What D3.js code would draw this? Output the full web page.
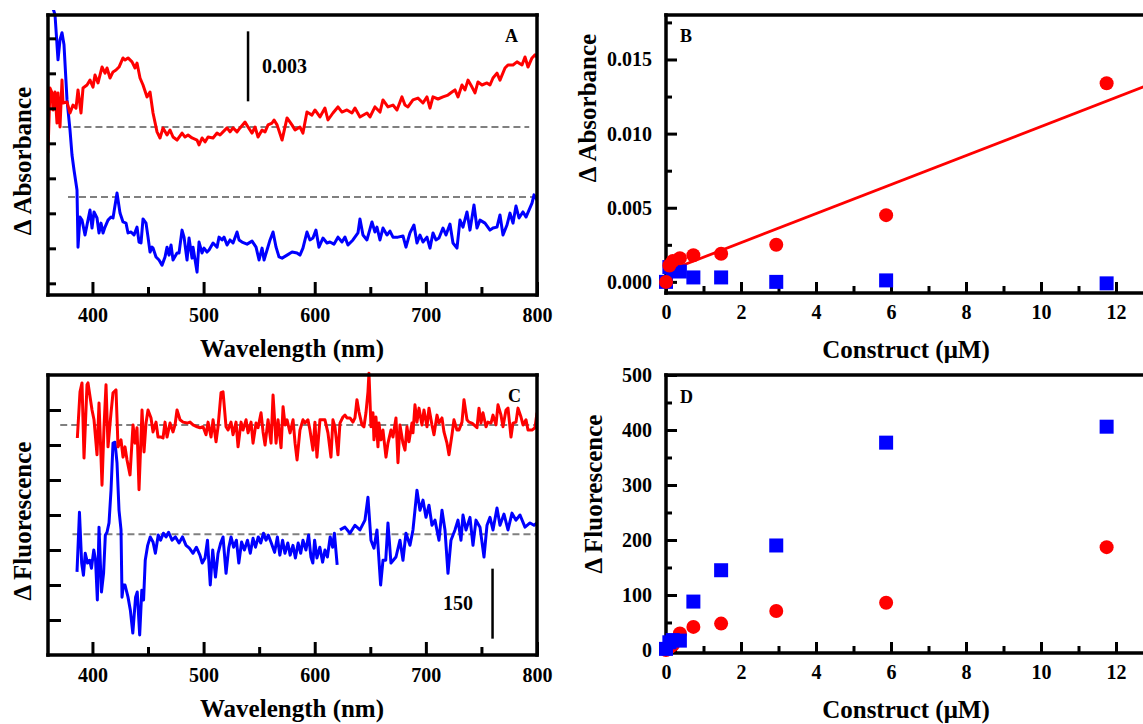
<!DOCTYPE html>
<html><head><meta charset="utf-8">
<script src="https://cdn.jsdelivr.net/npm/d3@7"></script>
<style>
html,body{margin:0;padding:0;background:#fff}
svg{display:block}
text{font-family:'Liberation Serif','Times New Roman',serif;font-weight:bold;fill:#000}
</style>
</head><body>
<svg id="c" width="1143" height="724"></svg>
<script>
// ---------------- DATA ----------------
// Panel A: difference absorbance spectra, [wavelength nm, ΔA in units of 0.001]
const specA_red = [[360.0,-1.11],[361.8,1.67],[363.6,1.46],[364.5,0.73],[366.3,1.50],[368.1,0.17],[369.0,1.46],[370.8,0.00],[372.6,2.01],[373.5,1.03],[377.1,1.07],[379.8,0.60],[382.5,0.94],[385.2,0.81],[387.0,1.59],[389.7,0.60],[391.5,1.67],[395.1,1.80],[397.8,2.01],[400.5,1.71],[402.3,2.23],[405.0,1.89],[408.6,2.57],[411.3,2.31],[413.1,2.53],[415.8,2.10],[418.5,2.36],[421.2,2.44],[423.9,2.57],[427.5,2.96],[429.3,2.87],[432.0,2.96],[435.6,2.79],[438.3,2.53],[440.1,2.74],[442.8,2.10],[445.5,1.80],[449.1,1.29],[451.8,1.50],[454.5,0.60],[458.1,-0.21],[460.8,-0.47],[463.5,-0.04],[467.1,-0.34],[469.8,-0.13],[472.5,-0.43],[476.1,-0.56],[480.6,-0.26],[483.3,-0.43],[486.0,-0.34],[489.6,-0.47],[494.1,-0.56],[495.9,-0.77],[498.6,-0.47],[501.3,-0.64],[504.0,-0.43],[508.5,-0.47],[512.1,-0.26],[514.8,-0.34],[517.5,-0.21],[521.1,-0.04],[523.8,-0.21],[526.5,-0.04],[530.1,-0.21],[532.8,-0.04],[537.3,0.21],[540.0,0.00],[543.6,-0.26],[546.3,0.00],[549.0,-0.43],[552.6,-0.13],[555.3,-0.21],[558.0,0.09],[561.6,0.17],[563.4,0.30],[566.1,0.09],[570.6,-0.56],[575.1,0.39],[579.5,0.09],[582.3,-0.13],[586.7,0.00],[589.4,-0.26],[593.0,0.64],[597.5,0.51],[600.2,0.73],[604.7,0.43],[609.2,0.81],[611.9,0.30],[616.4,0.60],[620.9,0.86],[624.5,0.64],[629.0,0.73],[633.5,0.60],[636.2,0.81],[640.7,0.43],[647.0,0.60],[649.7,0.43],[654.2,0.86],[658.7,0.64],[661.4,1.16],[665.9,0.86],[670.4,0.94],[674.0,0.73],[678.5,1.29],[681.2,0.94],[683.9,0.86],[688.4,1.16],[692.9,1.24],[697.4,1.03],[701.0,1.29],[703.7,0.81],[706.4,1.29],[710.9,1.20],[715.4,1.29],[719.9,1.37],[723.5,1.50],[726.2,1.59],[728.9,1.29],[732.5,1.80],[735.2,1.59],[737.9,2.01],[741.5,1.71],[744.2,1.46],[746.9,1.93],[750.5,1.80],[755.0,1.89],[757.7,1.80],[760.4,2.10],[764.0,2.31],[766.7,2.01],[771.2,2.53],[773.9,2.66],[778.4,2.66],[782.0,2.79],[786.5,2.66],[789.2,3.00],[791.9,2.57],[795.5,2.96],[798.2,3.09],[800.0,3.00]];
const specA_blue = [[363.6,8.23],[366.3,7.81],[369.0,5.88],[370.8,6.74],[372.6,7.04],[374.4,6.52],[377.1,4.16],[379.8,2.87],[381.6,1.80],[383.4,1.16],[386.1,0.30],[387.0,-2.15],[388.8,-0.86],[390.6,-0.99],[393.3,-1.63],[395.1,-1.20],[397.8,-0.56],[399.6,-1.33],[401.4,-0.64],[404.1,-0.90],[405.9,-1.54],[407.7,-1.12],[409.5,-1.54],[411.3,-1.29],[414.0,-0.99],[416.7,-0.86],[418.5,-0.90],[422.1,0.17],[424.8,-0.69],[427.5,-1.07],[430.2,-1.12],[432.0,-1.54],[434.7,-1.50],[437.4,-1.63],[440.1,-1.29],[441.9,-1.93],[443.7,-1.97],[445.5,-0.94],[448.2,-1.12],[450.0,-1.72],[451.8,-2.36],[453.6,-2.15],[454.5,-2.19],[457.2,-2.57],[459.9,-2.70],[462.6,-2.92],[465.3,-2.57],[467.1,-2.15],[468.9,-2.49],[470.7,-2.06],[472.5,-2.70],[476.1,-2.40],[477.9,-2.40],[480.6,-1.42],[482.4,-1.72],[485.1,-2.70],[486.9,-1.76],[489.6,-2.62],[490.5,-2.15],[494.1,-3.22],[495.9,-1.93],[498.6,-2.40],[500.4,-2.19],[503.1,-2.36],[504.9,-2.27],[508.5,-1.97],[512.1,-2.15],[513.9,-1.72],[516.6,-1.84],[518.4,-1.72],[521.1,-2.06],[523.8,-1.84],[526.5,-1.97],[530.1,-1.50],[531.9,-1.84],[534.6,-1.93],[539.1,-2.02],[543.6,-1.89],[547.2,-2.15],[549.9,-2.70],[552.6,-2.19],[554.4,-2.70],[557.1,-2.27],[559.8,-1.84],[562.5,-1.50],[565.2,-2.15],[567.9,-2.57],[570.6,-2.62],[575.1,-2.49],[579.6,-2.36],[584.1,-2.40],[586.7,-2.49],[589.4,-2.19],[593.0,-1.50],[595.7,-1.84],[598.4,-1.76],[601.1,-1.42],[603.8,-2.15],[607.4,-1.76],[611.0,-1.97],[613.7,-1.93],[617.3,-2.02],[620.9,-1.72],[624.5,-1.93],[627.2,-1.72],[629.9,-2.06],[634.4,-1.84],[638.9,-1.54],[640.7,-0.94],[643.4,-1.63],[647.0,-1.84],[651.5,-1.07],[654.2,-1.50],[656.0,-1.29],[658.7,-1.84],[661.4,-1.33],[665.0,-1.63],[667.7,-1.46],[670.4,-1.72],[674.9,-1.72],[679.4,-1.67],[682.1,-2.15],[685.7,-1.54],[689.3,-1.20],[692.0,-1.97],[694.7,-1.63],[697.4,-1.93],[701.0,-1.72],[703.7,-2.19],[706.4,-1.54],[709.1,-1.84],[711.8,-1.76],[715.4,-1.33],[718.1,-1.63],[721.7,-1.16],[724.4,-1.97],[728.0,-2.19],[730.7,-0.99],[733.4,-1.29],[737.0,-0.64],[739.7,-1.42],[743.3,-0.34],[746.0,-1.33],[748.7,-0.99],[753.2,-1.12],[757.7,-1.42],[760.4,-1.33],[764.0,-1.29],[766.7,-0.77],[769.4,-1.63],[773.0,-1.20],[775.7,-0.69],[778.4,-1.12],[781.1,-0.39],[783.8,-0.90],[787.4,-0.64],[790.1,-0.86],[792.8,-0.56],[795.5,-0.26],[797.3,0.09],[800.0,-0.13]];
const offsetA = {red: 7.2, blue: 4.2};          // vertical offsets of the two traces (units of 0.001)
const baseA = {red: [373, 793], blue: [378, 800]}; // extent of dashed zero lines (nm)
const ticksA_y = [0.5, 2.0, 3.5, 5.0, 6.5, 8.0, 9.5, 11.0];
const barA = {wl: 540, from: 8.3, to: 11.3, label: "0.003"};

// Panel C: difference fluorescence spectra, [wavelength nm, ΔF]
const specC_red = [[386.4,-28],[388.8,71],[390.6,90],[392.4,-71],[395.1,86],[396.0,90],[399.6,32],[401.4,11],[404.1,-64],[405.9,47],[408.6,-129],[410.4,-4],[412.2,86],[414.0,-47],[416.7,26],[418.5,69],[421.2,75],[423.0,-47],[425.7,-32],[427.5,-69],[429.3,-47],[431.1,-75],[433.8,-107],[436.5,0],[438.3,-39],[440.1,-6],[441.9,-139],[444.6,32],[446.4,-58],[448.2,4],[450.0,32],[452.7,15],[454.5,-15],[457.2,6],[459.0,-26],[461.7,-26],[463.5,-28],[465.3,6],[467.1,-26],[469.8,4],[472.5,-15],[474.3,0],[476.1,32],[478.8,11],[481.5,6],[485.1,4],[487.8,6],[490.5,0],[494.1,-4],[496.8,-6],[499.5,-4],[502.2,-21],[504.0,6],[506.7,-26],[508.5,11],[511.2,-36],[513.0,-4],[515.7,69],[517.5,71],[520.2,-4],[522.0,-11],[524.7,6],[526.5,-21],[529.2,6],[531.0,-47],[533.7,6],[535.5,-11],[538.2,11],[540.0,-17],[542.7,6],[544.5,-39],[547.2,4],[549.0,-6],[551.7,26],[553.5,-15],[555.3,-43],[558.0,11],[560.7,-39],[562.5,64],[565.2,-39],[567.0,11],[569.7,-49],[571.5,39],[573.3,0],[575.1,11],[577.8,-17],[580.5,11],[582.3,-39],[584.1,-75],[586.7,-11],[589.4,11],[591.2,4],[593.9,11],[595.7,-11],[598.4,-54],[600.2,6],[602.0,-69],[604.7,11],[607.4,11],[609.2,11],[611.9,-17],[614.6,-69],[616.4,11],[618.2,-4],[620.9,-64],[622.7,4],[625.4,17],[627.2,21],[629.0,15],[631.7,15],[634.4,6],[636.2,15],[638.0,54],[639.8,28],[642.5,0],[644.3,-4],[646.1,26],[647.9,71],[648.8,111],[650.6,-4],[652.4,26],[653.3,-32],[655.1,17],[656.9,-47],[657.8,4],[659.6,-32],[661.4,-11],[664.1,-69],[665.9,-39],[668.6,-11],[670.4,-26],[673.1,15],[674.9,-81],[676.7,0],[679.4,-39],[681.2,-54],[683.0,-4],[684.8,-36],[687.5,4],[688.4,-17],[690.2,43],[692.0,6],[693.8,36],[696.5,0],[698.3,32],[701.0,-4],[702.8,36],[705.5,0],[707.3,-21],[710.0,21],[711.8,4],[714.5,15],[716.3,-15],[719.0,-39],[720.8,-64],[723.5,-21],[725.3,11],[728.0,-11],[729.8,-11],[732.5,6],[734.3,54],[737.0,11],[738.8,6],[741.5,4],[743.3,0],[746.0,-6],[747.8,36],[749.6,4],[751.4,26],[754.1,-4],[755.9,6],[758.6,4],[760.4,21],[763.1,0],[764.9,43],[767.6,21],[769.4,-4],[772.1,32],[773.9,36],[776.6,-26],[778.4,4],[781.1,6],[782.9,36],[785.6,17],[787.4,0],[790.1,11],[791.9,-11],[795.5,-11],[798.2,-6],[800.0,26]];
const specC_blue = [[386.1,-81],[388.3,47],[390.3,-62],[391.9,-88],[393.5,-41],[395.6,-62],[397.5,-56],[399.1,-73],[401.2,-34],[402.8,-56],[404.4,-141],[405.9,15],[408.1,-124],[410.0,-84],[411.6,-2],[413.1,4],[414.9,24],[416.7,94],[418.5,195],[420.3,197],[422.1,152],[423.9,51],[425.7,9],[426.6,-135],[427.8,-109],[429.3,-109],[432.0,-135],[434.1,-163],[436.3,-212],[438.8,-135],[440.3,-124],[442.5,-216],[444.4,-120],[446.0,-141],[447.5,-56],[449.7,-24],[452.0,-6],[454.5,-17],[456.6,-41],[459.2,-2],[461.3,-13],[463.8,2],[466.2,-6],[468.5,4],[471.6,-13],[474.7,-6],[477.9,-19],[481.0,-6],[484.2,-24],[487.2,-30],[490.5,-41],[493.5,-28],[496.7,-45],[498.8,-62],[501.3,-51],[503.5,-13],[506.0,-109],[508.2,-34],[510.7,-92],[513.0,-41],[515.4,-19],[517.5,-6],[520.2,-84],[522.6,-30],[524.7,-6],[527.0,-28],[529.5,-13],[531.7,-62],[534.2,-17],[536.7,-34],[539.5,-13],[542.0,-41],[544.5,-9],[546.7,-28],[549.2,-6],[551.4,-19],[553.9,2],[556.2,-13],[558.2,-2],[560.6,-17],[563.9,-39],[566.4,-6],[568.6,-45],[571.1,-13],[573.2,-41],[575.8,-19],[577.9,-45],[580.4,-24],[582.6,-51],[585.1,-19],[587.4,-41],[589.4,-13],[592.1,-34],[594.5,-2],[596.6,-49],[598.3,-62],[599.9,-13],[602.0,-51],[604.6,-28],[607.1,-60],[609.2,-34],[611.4,-49],[613.9,-6],[616.1,-28],[617.7,2],[620.2,-66],[621.5,null],[622.7,9],[627.2,15],[631.7,2],[636.2,19],[640.7,9],[645.2,30],[647.9,79],[650.6,-13],[653.3,-30],[656.0,9],[659.3,-109],[661.4,-56],[663.9,-56],[665.9,24],[668.6,-62],[673.1,-49],[676.7,-13],[679.4,-56],[682.1,2],[685.7,-24],[688.4,9],[692.0,94],[694.7,51],[697.4,73],[700.1,36],[702.8,62],[705.5,19],[708.2,30],[711.8,-13],[714.5,51],[717.2,9],[719.9,-84],[722.6,-13],[726.2,9],[728.9,30],[731.6,-13],[733.4,41],[736.1,9],[739.7,36],[742.4,-24],[745.1,30],[748.7,15],[752.3,-49],[755.0,19],[757.7,36],[760.4,9],[764.0,56],[766.7,19],[770.3,43],[773.9,9],[777.5,45],[781.1,30],[784.7,41],[789.2,15],[793.7,24],[797.3,19],[800.0,24]];
const offsetC = {red: 493, blue: 259};
const baseC = {red: [371, 800], blue: [382, 800]};
const ticksC_y = [75, 150, 225, 300, 375, 450, 525];
const barC = {wl: 760, from: 35, to: 185, label: "150"};

// Wavelength axis ticks
const wlMajor = [400, 500, 600, 700, 800];
const wlMinor = [450, 550, 650, 750];

// Panels B & D: titration, construct concentration (µM)
const conc = [0, 0.09, 0.18, 0.37, 0.73, 1.47, 2.94, 5.87, 11.75];
const absB_red  = [0.0000, 0.0011, 0.0014, 0.0016, 0.0018, 0.0019, 0.0025, 0.0045, 0.0134];
const absB_blue = [0.0000, 0.0010, 0.0009, 0.0007, 0.0003, 0.0003, 0.0000, 0.0001, -0.0001];
const fitB_red  = [[0.1, 0.00078], [13, 0.01342]];
const fluD_red  = [0, 5, 9, 30, 42, 48, 71, 86, 187];
const fluD_blue = [2, 14, 18, 17, 88, 145, 190, 377, 406];
const concMajor = [0, 2, 4, 6, 8, 10, 12];
const concMinor = [1, 3, 5, 7, 9, 11];
const ticksB_major = [0, 0.005, 0.010, 0.015];
const ticksB_minor = [0.0025, 0.0075, 0.0125, 0.0175];
const ticksD_major = [0, 100, 200, 300, 400, 500];
const ticksD_minor = [50, 150, 250, 350, 450];

// ---------------- DRAWING ----------------
const RED = "#ff0000", BLUE = "#0000ff";
const svg = d3.select("#c");
svg.append("rect").attr("width", 1143).attr("height", 724).attr("fill", "#fff");
const defs = svg.append("defs");

function addAxisTicks(g, axis) {
  g.call(axis);
  g.select(".domain").remove();
  g.selectAll(".tick line").attr("stroke", "#000").attr("stroke-width", 3);
  g.selectAll(".tick text").style("font-size", "20px").attr("fill", "#000");
}

function frame(g, L, R, T, B, sides) {
  const p = {top: [[L, T], [R, T]], bottom: [[L, B], [R, B]], left: [[L, T], [L, B]], right: [[R, T], [R, B]]};
  sides.forEach(s => g.append("line")
    .attr("x1", p[s][0][0]).attr("y1", p[s][0][1]).attr("x2", p[s][1][0]).attr("y2", p[s][1][1])
    .attr("stroke", "#000").attr("stroke-width", 3.5).attr("stroke-linecap", "square"));
}

function spectrumPanel(o) {
  const g = svg.append("g");
  const x = d3.scaleLinear().domain([360, 800]).range([o.L, o.R]);
  const y = d3.scaleLinear().domain([0, o.ymax]).range([o.B, o.T]);
  const id = "clip" + o.letter;
  defs.append("clipPath").attr("id", id).append("rect")
    .attr("x", o.L).attr("y", o.T - 5).attr("width", o.R - o.L).attr("height", o.B - o.T + 5);

  // dashed baselines
  [["red", o.base.red], ["blue", o.base.blue]].forEach(([k, ext]) => {
    g.append("line").attr("x1", x(ext[0])).attr("x2", x(ext[1]))
      .attr("y1", y(o.offset[k])).attr("y2", y(o.offset[k]))
      .attr("stroke", "#808080").attr("stroke-width", 2).attr("stroke-dasharray", "7,4");
  });

  const line = k => d3.line().defined(d => d[1] !== null)
    .x(d => x(d[0])).y(d => y(d[1] + o.offset[k]));
  g.append("path").datum(o.blue).attr("clip-path", `url(#${id})`)
    .attr("d", line("blue")).attr("fill", "none").attr("stroke", BLUE).attr("stroke-width", 3).attr("stroke-linejoin", "round");
  g.append("path").datum(o.red).attr("clip-path", `url(#${id})`)
    .attr("d", line("red")).attr("fill", "none").attr("stroke", RED).attr("stroke-width", 3).attr("stroke-linejoin", "round");

  // axes ticks
  addAxisTicks(g.append("g").attr("transform", `translate(0,${o.B})`),
    d3.axisBottom(x).tickValues(wlMajor).tickSize(-13).tickPadding(13).tickFormat(d3.format("d")));
  addAxisTicks(g.append("g").attr("transform", `translate(0,${o.B})`),
    d3.axisBottom(x).tickValues(wlMinor).tickSize(-8).tickFormat(""));
  addAxisTicks(g.append("g").attr("transform", `translate(${o.L},0)`),
    d3.axisLeft(y).tickValues(o.yticks).tickSize(-o.ytick).tickFormat(""));

  frame(g, o.L, o.R, o.T, o.B, ["top", "bottom", "left", "right"]);

  // scale bar
  g.append("line").attr("x1", x(o.bar.wl)).attr("x2", x(o.bar.wl))
    .attr("y1", y(o.bar.from)).attr("y2", y(o.bar.to)).attr("stroke", "#000").attr("stroke-width", 2.5);
  g.append("text").attr("x", o.barText[0]).attr("y", o.barText[1]).attr("text-anchor", o.barText[2])
    .style("font-size", "20px").text(o.bar.label);

  g.append("text").attr("x", o.letterPos[0]).attr("y", o.letterPos[1]).style("font-size", "18px").text(o.letter);
  g.append("text").attr("x", 292).attr("y", o.B + 62).attr("text-anchor", "middle")
    .style("font-size", "25px").text("Wavelength (nm)");
  g.append("text").attr("transform", `translate(${o.ylabX},${o.ylabY}) rotate(-90)`).attr("text-anchor", "middle")
    .style("font-size", "25px").text(o.ylabel);
}

function titrationPanel(o) {
  const g = svg.append("g");
  const x = d3.scaleLinear().domain([0, 13]).range([o.L, o.L + 13 * 37.5]);
  const y = d3.scaleLinear().domain(o.ydom).range([o.B, o.T]);

  addAxisTicks(g.append("g").attr("transform", `translate(0,${o.B})`),
    d3.axisBottom(x).tickValues(concMajor).tickSize(-11).tickPadding(12).tickFormat(d3.format("d")));
  addAxisTicks(g.append("g").attr("transform", `translate(0,${o.B})`),
    d3.axisBottom(x).tickValues(concMinor).tickSize(-7).tickFormat(""));
  addAxisTicks(g.append("g").attr("transform", `translate(${o.L},0)`),
    d3.axisLeft(y).tickValues(o.major).tickSize(-11).tickPadding(14).tickFormat(o.fmt));
  addAxisTicks(g.append("g").attr("transform", `translate(${o.L},0)`),
    d3.axisLeft(y).tickValues(o.minor).tickSize(-6).tickFormat(""));
  frame(g, o.L, 1160, o.T, o.B, ["top", "bottom", "left"]);

  if (o.fit) {
    g.append("path").datum(o.fit).attr("d", d3.line().x(d => x(d[0])).y(d => y(d[1])))
      .attr("fill", "none").attr("stroke", RED).attr("stroke-width", 2.8);
  }
  const pts = k => conc.map((c, i) => [c, o[k][i]]);
  const drawCircles = () => g.append("g").selectAll("circle").data(pts("red")).join("circle")
    .attr("cx", d => x(d[0])).attr("cy", d => y(d[1])).attr("r", 7).attr("fill", RED);
  const drawSquares = () => g.append("g").selectAll("rect").data(pts("blue")).join("rect")
    .attr("x", d => x(d[0]) - 7).attr("y", d => y(d[1]) - 7).attr("width", 14).attr("height", 14).attr("fill", BLUE);
  if (o.redOnTop) { drawSquares(); drawCircles(); } else { drawCircles(); drawSquares(); }

  g.append("text").attr("x", o.letterPos[0]).attr("y", o.letterPos[1]).style("font-size", "18px").text(o.letter);
  g.append("text").attr("x", 906).attr("y", o.B + 65).attr("text-anchor", "middle")
    .style("font-size", "25px").text("Construct (\u03bcM)");
  g.append("text").attr("transform", `translate(${o.ylabX},${o.ylabY}) rotate(-90)`).attr("text-anchor", "middle")
    .style("font-size", "25px").text(o.ylabel);
}

spectrumPanel({letter: "A", L: 48, R: 537, T: 15, B: 295, ymax: 12, red: specA_red, blue: specA_blue,
  offset: offsetA, base: baseA, yticks: ticksA_y, ytick: 8, bar: barA, barText: [262, 73, "start"],
  letterPos: [505, 42], ylabel: "\u0394 Absorbance", ylabX: 31, ylabY: 161});
spectrumPanel({letter: "C", L: 48, R: 537, T: 375, B: 655, ymax: 600, red: specC_red, blue: specC_blue,
  offset: offsetC, base: baseC, yticks: ticksC_y, ytick: 13, bar: barC, barText: [473, 610, "end"],
  letterPos: [508, 402], ylabel: "\u0394 Fluorescence", ylabX: 31, ylabY: 521});
titrationPanel({letter: "B", L: 666, T: 15, B: 293, ydom: [-0.00075, 0.018], red: absB_red, blue: absB_blue,
  fit: fitB_red, major: ticksB_major, minor: ticksB_minor, fmt: d3.format(".3f"), redOnTop: true,
  letterPos: [680, 42], ylabel: "\u0394 Absorbance", ylabX: 596, ylabY: 108});
titrationPanel({letter: "D", L: 666, T: 375, B: 653, ydom: [-5.5, 500], red: fluD_red, blue: fluD_blue,
  fit: null, major: ticksD_major, minor: ticksD_minor, fmt: d3.format("d"), redOnTop: false,
  letterPos: [680, 403], ylabel: "\u0394 Fluorescence", ylabX: 602, ylabY: 494});
</script>
</body></html>
